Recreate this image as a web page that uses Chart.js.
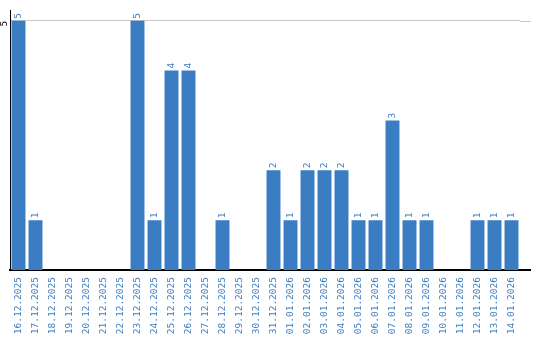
<!DOCTYPE html>
<html>
<head>
<meta charset="utf-8">
<script src="https://cdn.jsdelivr.net/npm/chart.js@4/dist/chart.umd.min.js"></script>
<style>
html,body{margin:0;padding:0;background:#fff;}
#wrap{width:540px;height:340px;position:relative;}
</style>
</head>
<body>
<div id="wrap"><canvas id="c"></canvas></div>
<script>
const categories = ["16.12.2025","17.12.2025","18.12.2025","19.12.2025","20.12.2025","21.12.2025","22.12.2025","23.12.2025","24.12.2025","25.12.2025","26.12.2025","27.12.2025","28.12.2025","29.12.2025","30.12.2025","31.12.2025","01.01.2026","02.01.2026","03.01.2026","04.01.2026","05.01.2026","06.01.2026","07.01.2026","08.01.2026","09.01.2026","10.01.2026","11.01.2026","12.01.2026","13.01.2026","14.01.2026"];
const counts = [5,1,0,0,0,0,0,5,1,4,4,0,1,0,0,2,1,2,2,2,1,1,3,1,1,0,0,1,1,1];
const yTicks = [5];

const BLUE = '#3b7dc3';
const FONT = 'DejaVu Sans Mono';

const valueLabels = {
  id: 'valueLabels',
  afterDatasetsDraw(chart) {
    const ctx = chart.ctx;
    const meta = chart.getDatasetMeta(0);
    ctx.save();
    ctx.fillStyle = BLUE;
    ctx.font = '9.5px "' + FONT + '"';
    ctx.textAlign = 'left';
    ctx.textBaseline = 'middle';
    meta.data.forEach((bar, i) => {
      const v = counts[i];
      if (!v) return;
      ctx.save();
      ctx.translate(bar.x, bar.y - 2);
      ctx.rotate(-Math.PI / 2);
      ctx.fillText(String(v), 0, 0);
      ctx.restore();
    });
    ctx.restore();
  }
};

const extendLines = {
  id: 'extendLines',
  beforeDatasetsDraw(chart) {
    const ctx = chart.ctx;
    const a = chart.chartArea;
    const y = chart.scales.y;
    ctx.save();
    ctx.lineWidth = 1;
    ctx.strokeStyle = '#c8c8c8';
    const yy = Math.round(y.getPixelForValue(5)) + 0.5;
    ctx.beginPath(); ctx.moveTo(a.right, yy); ctx.lineTo(531, yy); ctx.stroke();
    ctx.strokeStyle = '#000';
    ctx.lineWidth = 2;
    const yb = y.getPixelForValue(0);
    ctx.beginPath(); ctx.moveTo(a.right, yb); ctx.lineTo(531, yb); ctx.stroke();
    ctx.restore();
  }
};

new Chart(document.getElementById('c'), {
  type: 'bar',
  data: {
    labels: categories,
    datasets: [{
      data: counts,
      backgroundColor: BLUE,
      borderWidth: 0,
      barPercentage: 0.82,
      categoryPercentage: 1.0
    }]
  },
  options: {
    responsive: true,
    maintainAspectRatio: false,
    animation: false,
    layout: { padding: { top: 10, right: 20, left: 0, bottom: 0 } },
    plugins: { legend: { display: false }, tooltip: { enabled: false } },
    scales: {
      x: {
        offset: true,
        grid: { display: false, drawTicks: false },
        border: { display: true, color: '#000', width: 2 },
        ticks: {
          autoSkip: false,
          minRotation: 90,
          maxRotation: 90,
          padding: 7,
          color: BLUE,
          font: { family: FONT, size: 9.5 }
        },
        afterFit(s) { s.height = 70; }
      },
      y: {
        min: 0,
        max: 5.2,
        grid: { display: true, color: '#c8c8c8', drawTicks: false, lineWidth: 1 },
        border: { display: true, color: '#000', width: 1 },
        afterBuildTicks(s) { s.ticks = yTicks.map(v => ({ value: v })); },
        ticks: {
          minRotation: 90,
          maxRotation: 90,
          padding: 5,
          color: '#000',
          font: { family: FONT, size: 9.5 }
        },
        afterFit(s) { s.width = 10; }
      }
    }
  },
  plugins: [extendLines, valueLabels]
});
</script>
</body>
</html>
